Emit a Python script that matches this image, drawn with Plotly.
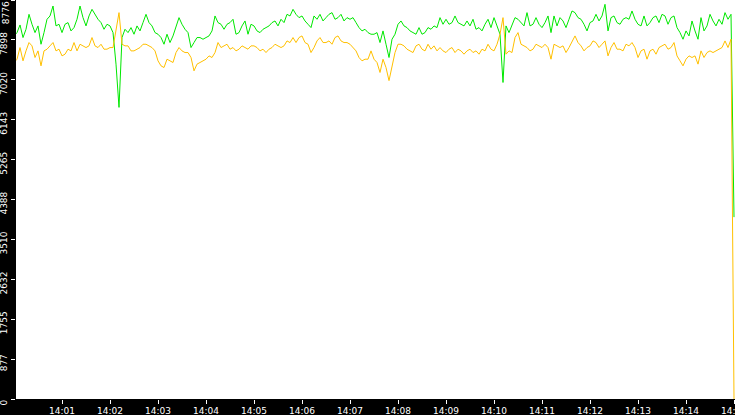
import pandas as pd
import plotly.graph_objects as go

# sample times (one reading every 3.75 s from 14:00:00)
times = pd.date_range("2024-01-01 14:00:00", periods=241, freq="3750ms")

green_vals = [
    7986, 8059, 8227, 7950, 8132, 8461, 8242, 8059, 8206, 7803, 8059, 8352, 8425, 8644, 8206, 8242, 8059, 8242, 8279, 8096,
    8169, 8352, 8644, 8388, 8206, 8425, 8571, 8461, 8352, 8279, 8132, 8242, 8206, 8059, 7365, 6414, 7950, 8132, 8059, 8169, 8023,
    8206, 8096, 8279, 8461, 8279, 8206, 8059, 8023, 7950, 7803, 8023, 7840, 7986, 8169, 8388, 8242, 8132, 8059, 7730, 7840,
    7950, 7950, 7913, 7950, 7986, 8096, 8425, 8279, 8242, 8132, 8242, 8279, 8352, 8023, 8059, 8206, 8315, 8023, 8242, 8206,
    8096, 8059, 8132, 8169, 8206, 8279, 8315, 8206, 8352, 8279, 8461, 8425, 8571, 8461, 8388, 8425, 8315, 8242, 8169, 8425,
    8352, 8461, 8315, 8388, 8461, 8498, 8352, 8388, 8461, 8315, 8388, 8352, 8388, 8279, 8169, 8096, 8132, 8059, 8023, 8023,
    8059, 7840, 8096, 7803, 7511, 7913, 8023, 8242, 8315, 8206, 8169, 8096, 8059, 8023, 8169, 8023, 8059, 8169, 8132, 8206,
    8169, 8388, 8242, 8352, 8242, 8279, 8425, 8279, 8242, 8206, 8315, 8206, 8352, 8132, 8169, 8096, 8242, 8352, 8169, 8388,
    8206, 8023, 6962, 8206, 8059, 8206, 8388, 8352, 8279, 8206, 8498, 8206, 8242, 8388, 8242, 8169, 8279, 8425, 8059, 8425,
    8206, 8388, 8315, 8169, 8352, 8535, 8498, 8388, 8352, 8242, 8096, 8279, 8315, 8461, 8315, 8425, 8681, 8096, 8388, 8425,
    8279, 8242, 8352, 8388, 8352, 8535, 8352, 8242, 8206, 8425, 8206, 8279, 8388, 8425, 8279, 8461, 8425, 8242, 8388, 8425,
    8169, 8059, 7913, 8096, 7986, 8315, 8096, 7913, 8388, 8096, 8206, 8461, 8315, 8206, 8352, 8242, 8498, 8352, 8461, 4000,
]

orange_vals = [
    7401, 7474, 7730, 7438, 7657, 7840, 7767, 7511, 7657, 7328, 7657, 7694, 7767, 7840, 7657, 7694, 7547, 7584, 7694, 7657,
    7840, 7657, 7803, 7767, 7730, 7767, 7950, 7767, 7730, 7803, 7694, 7694, 7730, 7730, 8096, 8498, 7803, 7767, 7767, 7657, 7657,
    7694, 7730, 7803, 7803, 7767, 7730, 7657, 7438, 7328, 7291, 7474, 7438, 7401, 7620, 7730, 7657, 7620, 7620, 7511, 7218,
    7365, 7401, 7438, 7474, 7547, 7511, 7620, 7840, 7730, 7767, 7803, 7694, 7730, 7657, 7694, 7767, 7730, 7694, 7767, 7767,
    7730, 7657, 7694, 7620, 7694, 7730, 7803, 7767, 7730, 7767, 7876, 7840, 7950, 7840, 7950, 7986, 7840, 7803, 7620, 7730,
    7876, 7950, 7840, 7840, 7876, 7803, 7950, 7986, 7876, 7840, 7840, 7803, 7730, 7657, 7511, 7438, 7474, 7474, 7657, 7474,
    7401, 7182, 7474, 7291, 7003, 7291, 7620, 7803, 7803, 7767, 7694, 7657, 7620, 7767, 7803, 7694, 7657, 7803, 7694, 7767,
    7657, 7730, 7657, 7620, 7694, 7730, 7620, 7694, 7657, 7584, 7657, 7694, 7620, 7657, 7584, 7694, 7657, 7803, 7694, 7657,
    7803, 8023, 8388, 7584, 7657, 7620, 7950, 8059, 7803, 7767, 7730, 7657, 7694, 7803, 7767, 7730, 7803, 7730, 7474, 7803,
    7767, 7730, 7767, 7620, 7730, 7876, 7986, 7840, 7767, 7657, 7730, 7767, 7876, 7840, 7730, 7803, 7876, 7547, 7730, 7840,
    7694, 7694, 7657, 7803, 7767, 7840, 7730, 7511, 7657, 7694, 7474, 7657, 7694, 7584, 7730, 7767, 7803, 7694, 7730, 7840,
    7547, 7438, 7328, 7474, 7547, 7511, 7547, 7365, 7657, 7511, 7620, 7657, 7620, 7657, 7694, 7730, 7876, 7730, 7913, 0,
]

y_tick_vals = [0, 877.6, 1755.2, 2632.8, 3510.4, 4388, 5265.6, 6143.2, 7020.8, 7898.4, 8776]
y_tick_text = ["0", "877", "1755", "2632", "3510", "4388", "5265", "6143", "7020", "7898", "8776"]

x_start = "2024-01-01 14:00:02.5"
x_end = "2024-01-01 14:15:01.25"

fig = go.Figure()
fig.add_trace(go.Scatter(x=times, y=green_vals, mode="lines",
                         line=dict(color="#00e800", width=1), hoverinfo="skip"))
fig.add_trace(go.Scatter(x=times, y=orange_vals, mode="lines",
                         line=dict(color="#ffc000", width=1), hoverinfo="skip"))

font = dict(family="DejaVu Sans", size=9, color="white")

# top tick label is pushed down so it stays inside the page (as in the reference)
shown_text = y_tick_text[:-1] + [""]

fig.update_layout(
    width=735, height=415,
    margin=dict(l=16, r=0, t=0, b=16, pad=0),
    paper_bgcolor="black",
    plot_bgcolor="white",
    showlegend=False,
    font=font,
    xaxis=dict(
        type="date", range=[x_start, x_end],
        tickformat="%H:%M", dtick=60000, tick0="2024-01-01 14:00:00",
        ticks="outside", ticklen=4, tickcolor="white", tickwidth=1,
        showgrid=False, zeroline=False, showline=False,
        tickfont=font, automargin=False, ticklabeloverflow="allow",
        ticklabelstandoff=-1,
    ),
    yaxis=dict(
        range=[0, 8776],
        tickmode="array", tickvals=y_tick_vals, ticktext=shown_text,
        tickangle=-90, ticklabelshift=5,
        ticks="outside", ticklen=4, tickcolor="white", tickwidth=1,
        showgrid=False, zeroline=False, showline=False,
        tickfont=font, automargin=False, ticklabeloverflow="allow",
    ),
    annotations=[dict(
        text=y_tick_text[-1], textangle=-90, showarrow=False,
        xref="paper", yref="paper", x=-0.0139, y=0.967,
        xanchor="center", yanchor="middle", font=font,
    )],
)

fig.write_html(
    "out.html",
    config={"displayModeBar": False},
    post_script="document.body.style.margin='0';document.body.style.background='black';",
)
